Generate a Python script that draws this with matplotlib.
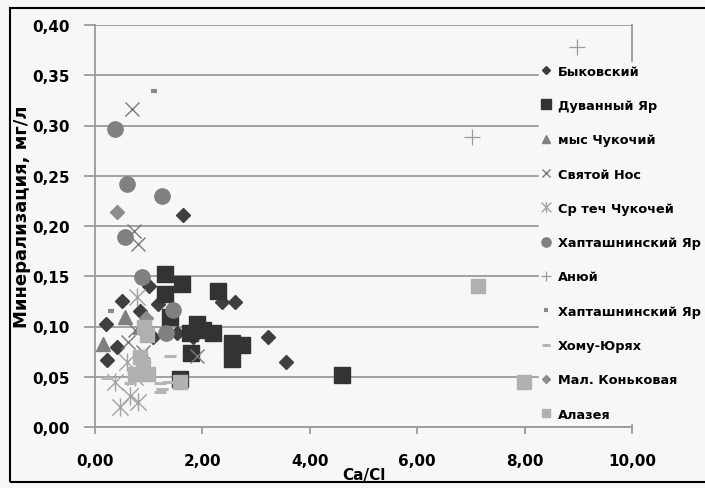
import matplotlib
matplotlib.use("Agg")
import matplotlib.pyplot as plt
from matplotlib.path import Path
from matplotlib.patches import Rectangle

# ---------------- data ----------------
bykov_x = [1.64, 3.22, 3.56, 2.37, 2.61, 1.52, 0.50, 0.20, 1.00, 0.84, 1.17, 1.08, 0.41, 0.22, 1.82]
bykov_y = [0.211, 0.090, 0.065, 0.124, 0.124, 0.094, 0.125, 0.102, 0.140, 0.115, 0.122, 0.090, 0.080, 0.067, 0.090]

duvan_x = [4.60, 1.30, 1.62, 1.30, 2.29, 1.40, 1.90, 1.77, 2.01, 2.20, 2.55, 2.74, 2.55, 1.79, 1.58]
duvan_y = [0.052, 0.152, 0.142, 0.132, 0.135, 0.109, 0.102, 0.094, 0.097, 0.094, 0.084, 0.082, 0.068, 0.074, 0.048]

chuk_x = [0.56, 0.15, 0.93, 0.84]
chuk_y = [0.109, 0.083, 0.104, 0.100]

nos_x = [0.69, 0.73, 0.80, 1.90, 0.74, 0.62, 0.90]
nos_y = [0.316, 0.195, 0.182, 0.071, 0.097, 0.085, 0.075]

srtech_x = [0.37, 0.47, 0.65, 0.80, 0.74, 0.78, 0.60]
srtech_y = [0.045, 0.020, 0.031, 0.025, 0.050, 0.129, 0.065]

khap_x = [0.37, 0.60, 1.25, 0.56, 0.88, 1.45, 1.32]
khap_y = [0.297, 0.242, 0.230, 0.189, 0.149, 0.116, 0.094]

anyui_x = [8.98, 7.02]
anyui_y = [0.378, 0.289]

khap2_x = [1.10, 0.30]
khap2_y = [0.334, 0.115]

khomu_x = [1.40, 0.22, 0.65, 1.21, 1.21, 1.36, 1.25]
khomu_y = [0.071, 0.049, 0.044, 0.044, 0.035, 0.045, 0.038]

konk_x = [0.41, 0.95]
konk_y = [0.214, 0.108]

alaz_x = [7.13, 7.99, 1.58, 0.84, 0.89, 0.99, 0.75, 0.97, 0.92]
alaz_y = [0.140, 0.045, 0.045, 0.070, 0.060, 0.053, 0.053, 0.092, 0.100]

labels = ["Быковский", "Дуванный Яр", "мыс Чукочий", "Святой Нос", "Ср теч Чукочей",
          "Хапташнинский Яр", "Анюй", "Хапташнинский Яр", "Хому-Юрях", "Мал. Коньковая", "Алазея"]

x_ticks = [0, 2, 4, 6, 8, 10]
y_ticks = [0.00, 0.05, 0.10, 0.15, 0.20, 0.25, 0.30, 0.35, 0.40]

# ---------------- style ----------------
BG = "#f7f7f7"
GRID = "#9a9a9a"
plt.rcParams['font.family'] = ['DejaVu Sans']

star = Path([(0, -0.5), (0, 0.5), (-0.45, -0.45), (0.45, 0.45), (-0.45, 0.45), (0.45, -0.45)],
            [Path.MOVETO, Path.LINETO, Path.MOVETO, Path.LINETO, Path.MOVETO, Path.LINETO])

fig = plt.figure(figsize=(7.05, 4.89), dpi=100, facecolor=BG)
ax = fig.add_axes([95 / 705, 1 - 428 / 489, (632 - 95) / 705, (428 - 26) / 489])
ax.set_facecolor(BG)

series = [
    (bykov_x, bykov_y, dict(marker='D', ms=7.0, color='#3f3f3f', mec='#3f3f3f')),
    (duvan_x, duvan_y, dict(marker='s', ms=11, color='#333333', mec='#333333')),
    (chuk_x, chuk_y, dict(marker='^', ms=10, color='#808080', mec='#808080')),
    (nos_x, nos_y, dict(marker='x', ms=10, color='#7a7a7a', mew=1.0)),
    (srtech_x, srtech_y, dict(marker=star, ms=13, color='#a3a3a3', mew=1.0)),
    (khap_x, khap_y, dict(marker='o', ms=11, color='#808080', mec='#808080')),
    (anyui_x, anyui_y, dict(marker='+', ms=12, color='#999999', mew=0.9)),
    (khap2_x, khap2_y, dict(marker='_', ms=5, color='#8a8a8a', mew=3)),
    (khomu_x, khomu_y, dict(marker='_', ms=9, color='#b5b5b5', mew=2.2)),
    (konk_x, konk_y, dict(marker='D', ms=7.0, color='#8c8c8c', mec='#8c8c8c')),
    (alaz_x, alaz_y, dict(marker='s', ms=10, color='#b0b0b0', mec='#b0b0b0')),
]
for (xs, ys, kw), lab in zip(series, labels):
    ax.plot(xs, ys, linestyle='none', label=lab, zorder=3, **kw)

ax.set_xlim(0, 10)
ax.set_ylim(0, 0.40)
ax.set_xticks(x_ticks)
ax.set_yticks(y_ticks)
ax.set_xticklabels([f"{v:.2f}".replace('.', ',') for v in x_ticks], fontweight='bold', fontsize=11)
ax.set_yticklabels([f"{v:.2f}".replace('.', ',') for v in y_ticks], fontweight='bold', fontsize=11)
ax.yaxis.grid(True, color=GRID, linewidth=1.3, zorder=1)
ax.set_axisbelow(True)
ax.spines['top'].set_visible(False)
for s in ['left', 'bottom', 'right']:
    ax.spines[s].set_color(GRID)
    ax.spines[s].set_linewidth(1.3)
ax.tick_params(axis='y', direction='out', length=8, color=GRID, width=1.3, pad=10)
ax.tick_params(axis='x', direction='out', length=5, color=GRID, width=1.3, pad=14)

ax.set_xlabel("Ca/Cl", fontweight='bold', fontsize=11)
ax.xaxis.set_label_coords(0.5, -(468 - 428) / 402)
ax.set_ylabel("Минерализация, мг/л", fontweight='bold', fontsize=13)
ax.yaxis.set_label_coords(-(95 - 31) / 537, 0.525)

leg = ax.legend(loc='upper left', bbox_to_anchor=(539 / 705, 1 - 63 / 489), bbox_transform=fig.transFigure,
                frameon=True, facecolor=BG, edgecolor=BG, framealpha=1.0, fancybox=False,
                fontsize=9.3, markerscale=0.6, handlelength=0.7, handletextpad=0.55,
                labelspacing=1.65, borderpad=0.2, borderaxespad=0)
for t in leg.get_texts():
    t.set_fontweight('bold')
leg.set_zorder(5)

# outer frame (right edge lies outside the image, as in the reference)
fig.patches.append(Rectangle((10 / 705, 6 / 489), 1.05, 1 - 15 / 489, transform=fig.transFigure,
                             fill=False, edgecolor='black', linewidth=1.5))

fig.savefig("out.png", dpi=100, facecolor=BG)
